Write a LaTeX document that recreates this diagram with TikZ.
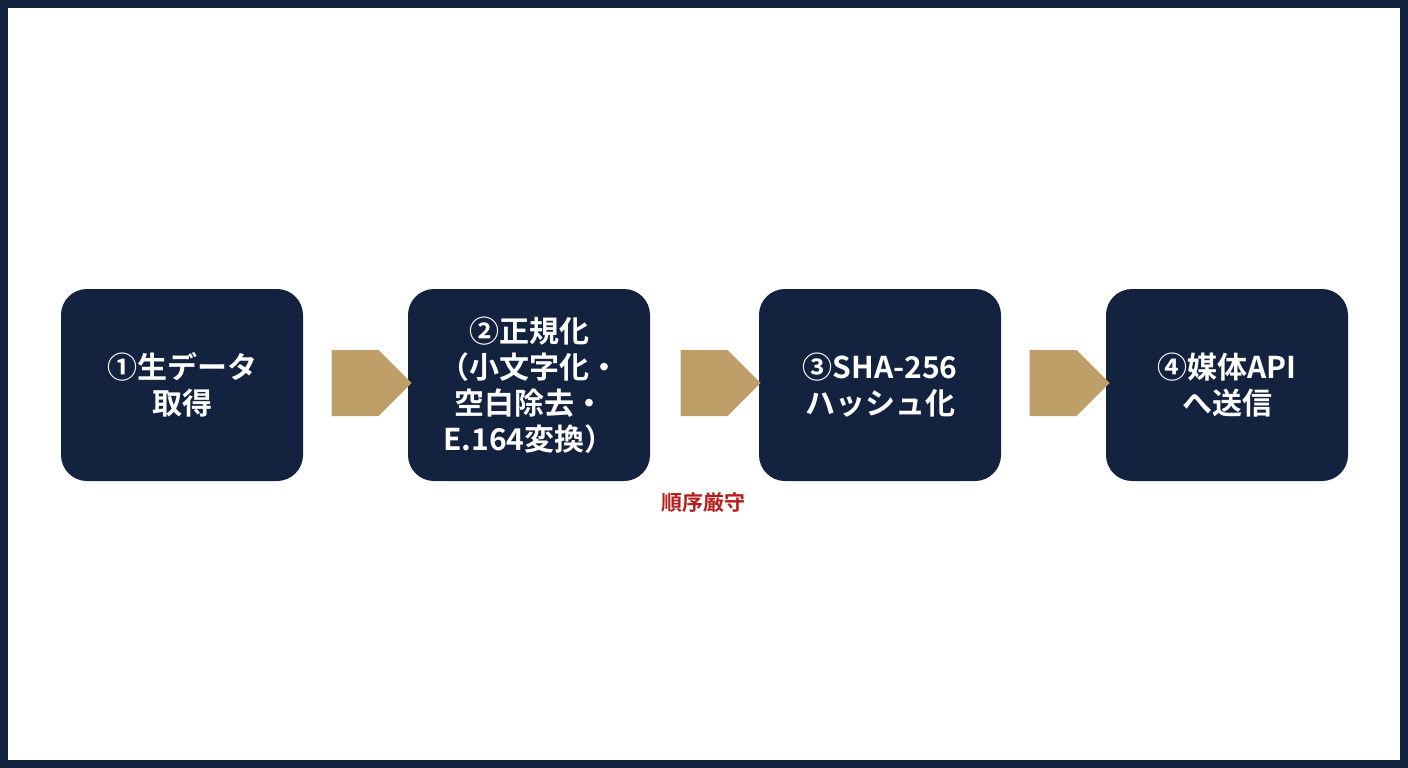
\documentclass[tikz,border=0pt]{standalone}
\usepackage{fontspec}
\setmainfont{Noto Sans CJK JP}[BoldFont={* Bold}]
\usetikzlibrary{shapes.arrows}
\definecolor{navy}{HTML}{13223F}
\definecolor{gold}{HTML}{BE9F68}
\definecolor{redt}{HTML}{B81C1C}
\begin{document}
\begin{tikzpicture}[x=1pt,y=-1pt,
  stepbox/.style={fill=navy,rounded corners=26pt,minimum width=242pt,minimum height=192pt,text=white,font=\bfseries\fontsize{30}{36}\selectfont,align=center,inner sep=0pt},
  garrow/.style={single arrow,fill=gold,minimum height=80pt,minimum width=66pt,single arrow head extend=0pt,single arrow tip angle=90,inner sep=0pt,shape border rotate=0}]
\fill[navy] (0,0) rectangle (1408,768);
\fill[white] (8,8) rectangle (1400,760);
\useasboundingbox (0,0) rectangle (1408,768);
\node[stepbox] (a) at (182,385) {①生データ\\取得};
\node[stepbox] (b) at (529,385) {②正規化\\（小文字化・\\空白除去・\\E.164変換）};
\node[stepbox] (c) at (880,385) {③SHA-256\\ハッシュ化};
\node[stepbox] (d) at (1227,385) {④媒体API\\へ送信};
\node[garrow] (ab) at (355,383) {};
\node[garrow] (bc) at (704,383) {};
\node[garrow] (cd) at (1053,383) {};
\node[text=redt,font=\bfseries\fontsize{21}{24}\selectfont] (n) at (703,503) {順序厳守};
\end{tikzpicture}
\end{document}
